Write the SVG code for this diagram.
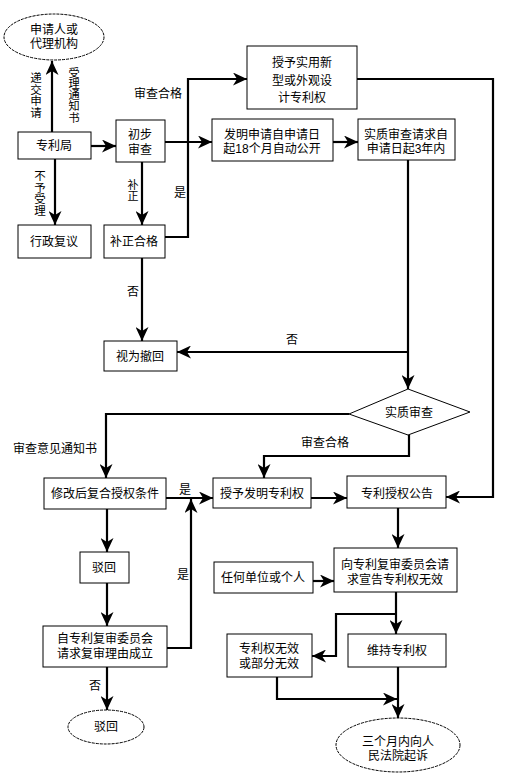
<svg xmlns="http://www.w3.org/2000/svg" width="505" height="782" viewBox="0 0 505 782">
<style>
text{font-family:"Liberation Sans","Noto Sans CJK SC",sans-serif;font-size:12px;fill:#000;text-anchor:middle;dominant-baseline:central}
text.v{writing-mode:vertical-rl;glyph-orientation-vertical:0}
.box{fill:#fff;stroke:#000;stroke-width:1}
.ell{fill:#fff;stroke:#000;stroke-width:1;stroke-dasharray:3 1}
.dia{fill:#fff;stroke:#000;stroke-width:1}
.c{fill:none;stroke:#000;stroke-width:2.2;marker-end:url(#ah)}
</style>
<defs>
<marker id="ah" markerUnits="userSpaceOnUse" markerWidth="15" markerHeight="13" refX="14" refY="6.5" orient="auto">
<path d="M0,0 L14,6.5 L0,13 L4,6.5 z" fill="#000"/>
</marker>
</defs>
<rect width="505" height="782" fill="#fff"/>
<g id="connectors">
<path class="c" d="M52,132 V61"/>
<path class="c" d="M91,146 H116"/>
<path class="c" d="M55,159 V225"/>
<path class="c" d="M142,162 V225"/>
<path class="c" d="M165,142 H212"/>
<path class="c" d="M165,237 H188 V79 H247"/>
<path class="c" d="M333,142 H358"/>
<path class="c" d="M357,79 H493 V497 H446"/>
<path class="c" d="M142,258 V341"/>
<path class="c" d="M408,160 V389"/>
<path class="c" d="M408,352 H177"/>
<path class="c" d="M349,414 H106 V478"/>
<path class="c" d="M409,435 V456 H264 V478"/>
<path class="c" d="M166,498 H213"/>
<path class="c" d="M311,498 H347"/>
<path class="c" d="M107,509 V552"/>
<path class="c" d="M107,583 V626"/>
<path class="c" d="M167,648 H191 V499"/>
<path class="c" d="M107,667 V710"/>
<path class="c" d="M398,508 V548"/>
<path class="c" d="M313,581 H334"/>
<path class="c" d="M396,592 V634"/>
<path class="c" d="M396,614 H336 V656 H312"/>
<path class="c" d="M398,667 V718"/>
<path class="c" d="M277,677 V699 H397"/>
</g>
<g id="labels">
<text class="v" x="35" y="95" style="font-size:11.5px">递交申请</text>
<text class="v" x="73" y="95" style="font-size:11.2px">受理通知书</text>
<text class="v" x="39" y="193" style="font-size:11.5px">不予受理</text>
<text class="v" x="132" y="190" style="font-size:11px">补正</text>
<text x="158" y="94">审查合格</text>
<text x="180" y="193">是</text>
<text x="133" y="292">否</text>
<text x="292" y="340">否</text>
<text x="55" y="449">审查意见通知书</text>
<text x="325" y="443">审查合格</text>
<text x="185" y="490">是</text>
<text x="183" y="575">是</text>
<text x="95" y="686">否</text>
</g>
<g id="n-applicant"><ellipse class="ell" cx="54" cy="37" rx="50" ry="23"/><text x="54" y="30"><tspan x="54" y="30">申请人或</tspan><tspan x="54" y="44">代理机构</tspan></text></g>
<g id="n-office"><rect class="box" x="18" y="132" width="73" height="27"/><text x="54" y="146">专利局</text></g>
<g id="n-prelim"><rect class="box" x="116" y="120" width="49" height="42"/><text x="140" y="135"><tspan x="140" y="135">初步</tspan><tspan x="140" y="150">审查</tspan></text></g>
<g id="n-admin"><rect class="box" x="18" y="225" width="73" height="33"/><text x="54" y="242">行政复议</text></g>
<g id="n-correct"><rect class="box" x="104" y="225" width="61" height="33"/><text x="134" y="242">补正合格</text></g>
<g id="n-utility"><rect class="box" x="247" y="46" width="110" height="63"/><text x="302" y="63"><tspan x="302" y="63">授予实用新</tspan><tspan x="302" y="81">型或外观设</tspan><tspan x="302" y="98">计专利权</tspan></text></g>
<g id="n-publish"><rect class="box" x="212" y="119" width="121" height="42"/><text x="272" y="135"><tspan x="272" y="135">发明申请自申请日</tspan><tspan x="272" y="149">起18个月自动公开</tspan></text></g>
<g id="n-request"><rect class="box" x="358" y="119" width="97" height="41"/><text x="406" y="135"><tspan x="406" y="135">实质审查请求自</tspan><tspan x="406" y="149">申请日起3年内</tspan></text></g>
<g id="n-withdrawn"><rect class="box" x="104" y="341" width="73" height="30"/><text x="140" y="357">视为撤回</text></g>
<g id="n-substantive"><polygon class="dia" points="408,389 470,412 408,435 349,414"/><text x="409" y="413">实质审查</text></g>
<g id="n-amend"><rect class="box" x="44" y="478" width="122" height="31"/><text x="105" y="494">修改后复合授权条件</text></g>
<g id="n-grant"><rect class="box" x="213" y="478" width="98" height="30"/><text x="262" y="494">授予发明专利权</text></g>
<g id="n-announce"><rect class="box" x="347" y="476" width="99" height="32"/><text x="397" y="494">专利授权公告</text></g>
<g id="n-reject1"><rect class="box" x="80" y="552" width="49" height="31"/><text x="104" y="568">驳回</text></g>
<g id="n-review"><rect class="box" x="43" y="626" width="124" height="41"/><text x="105" y="639"><tspan x="105" y="639">自专利复审委员会</tspan><tspan x="105" y="654">请求复审理由成立</tspan></text></g>
<g id="n-reject2"><ellipse class="ell" cx="106" cy="727" rx="38" ry="17"/><text x="106" y="727">驳回</text></g>
<g id="n-anyone"><rect class="box" x="214" y="562" width="99" height="31"/><text x="263" y="578">任何单位或个人</text></g>
<g id="n-invalid-req"><rect class="box" x="334" y="548" width="123" height="44"/><text x="395" y="565"><tspan x="395" y="565">向专利复审委员会请</tspan><tspan x="395" y="580">求宣告专利权无效</tspan></text></g>
<g id="n-invalid"><rect class="box" x="227" y="634" width="85" height="43"/><text x="269" y="649"><tspan x="269" y="649">专利权无效</tspan><tspan x="269" y="664">或部分无效</tspan></text></g>
<g id="n-maintain"><rect class="box" x="348" y="634" width="98" height="33"/><text x="397" y="651">维持专利权</text></g>
<g id="n-court"><ellipse class="ell" cx="398" cy="745" rx="62" ry="27"/><text x="398" y="742"><tspan x="398" y="742">三个月内向人</tspan><tspan x="398" y="756">民法院起诉</tspan></text></g>
</svg>
